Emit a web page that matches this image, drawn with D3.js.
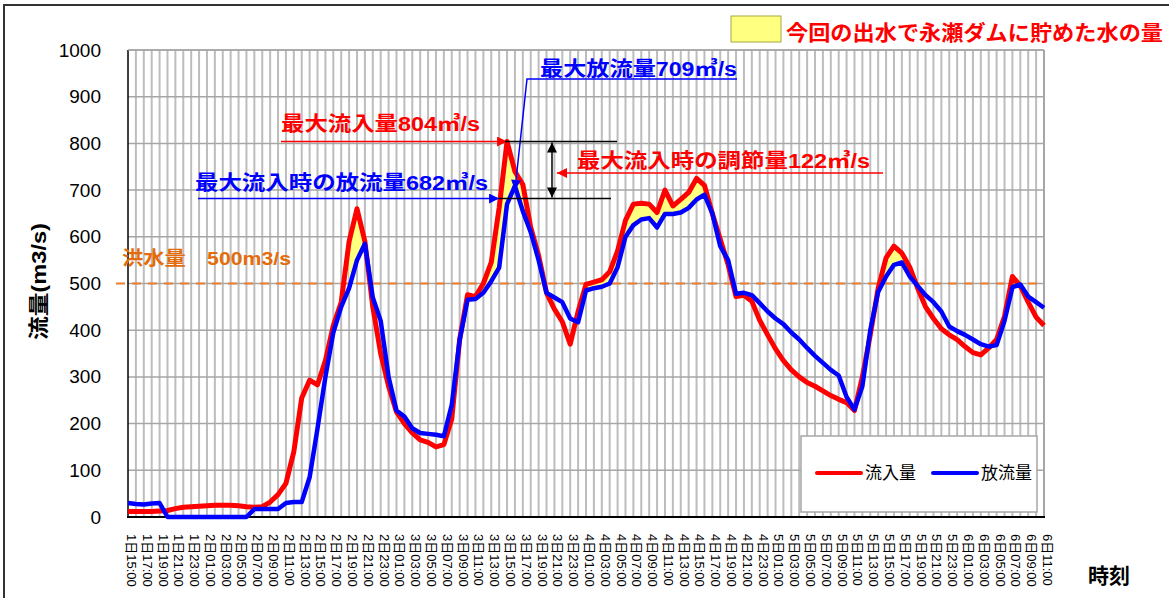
<!DOCTYPE html>
<html>
<head>
<meta charset="utf-8">
<script src="https://cdn.jsdelivr.net/npm/d3@7"></script>
<style>
  body { margin: 0; background: #fff; }
  svg { display: block; }
  text { font-family: "Liberation Sans", Arial, "Noto Sans CJK JP", sans-serif; }
  .jp { font-family: "Liberation Sans", "Noto Sans CJK JP", sans-serif; font-weight: bold; }
</style>
</head>
<body>
<svg id="drawing_region"></svg>
<script>
// hourly values, 1日15:00 -> 6日11:00
const inflow = [
  12, 12, 12, 12, 13, 14, 18, 21, 22, 23,
  24, 25, 25, 25, 24, 22, 21, 22, 32, 48,
  72, 140, 255, 293, 283, 335, 410, 460, 590, 660,
  590, 450, 350, 280, 225, 200, 180, 165, 160, 150,
  155, 210, 380, 476, 472, 500, 545, 662, 804, 740,
  712, 620, 560, 480, 445, 418, 370, 440, 498, 503,
  508, 525, 570, 635, 670, 672, 670, 652, 700, 666,
  680, 695, 725, 710, 650, 595, 540, 472, 475, 462,
  421, 390, 360, 335, 315, 300, 288, 280, 270, 260,
  252, 245, 228, 300, 390, 490, 555, 580, 565, 535,
  490, 450, 425, 403, 390, 380, 365, 352, 347, 362,
  380, 430, 515, 495, 460, 428, 410
];
const outflow = [
  30, 28, 27, 29, 30, 0, 0, 0, 0, 0,
  0, 0, 0, 0, 0, 0, 17, 17, 17, 17,
  30, 32, 32, 85, 190, 300, 395, 450, 490, 550,
  585, 470, 420, 300, 228, 215, 190, 180, 178, 176,
  173, 240, 379, 465, 467, 480, 505, 534, 670, 709,
  655, 610, 550, 480, 470, 460, 425, 417, 485, 490,
  493, 500, 535, 600, 625, 637, 640, 620, 649, 649,
  652, 662, 680, 690, 650, 580, 550, 478, 480, 475,
  458, 440, 425, 413, 395, 380, 362, 345, 330, 315,
  303, 257, 230, 280, 400, 482, 515, 540, 545, 515,
  495, 475, 460, 440, 408, 398, 390, 380, 370, 365,
  368, 420, 492, 498, 472, 460, 448
];
const tickLabels = [
  "1日15:00", "1日17:00", "1日19:00", "1日21:00", "1日23:00",
  "2日01:00", "2日03:00", "2日05:00", "2日07:00", "2日09:00", "2日11:00",
  "2日13:00", "2日15:00", "2日17:00", "2日19:00", "2日21:00", "2日23:00",
  "3日01:00", "3日03:00", "3日05:00", "3日07:00", "3日09:00", "3日11:00",
  "3日13:00", "3日15:00", "3日17:00", "3日19:00", "3日21:00", "3日23:00",
  "4日01:00", "4日03:00", "4日05:00", "4日07:00", "4日09:00", "4日11:00",
  "4日13:00", "4日15:00", "4日17:00", "4日19:00", "4日21:00", "4日23:00",
  "5日01:00", "5日03:00", "5日05:00", "5日07:00", "5日09:00", "5日11:00",
  "5日13:00", "5日15:00", "5日17:00", "5日19:00", "5日21:00", "5日23:00",
  "6日01:00", "6日03:00", "6日05:00", "6日07:00", "6日09:00", "6日11:00"
];
const yTicks = [0, 100, 200, 300, 400, 500, 600, 700, 800, 900, 1000];
const floodLevel = 500;
const maxIn = 804, maxOut = 709, outAtMaxIn = 682, cut = 122;

const W = 1169, H = 598;
const svg = d3.select('#drawing_region').attr('width', W).attr('height', H);

const data = inflow.map((v, i) => ({ h: i, inf: v, out: outflow[i] }));
const x = d3.scaleLinear().domain([0, inflow.length - 1]).range([128, 1044]);
const y = d3.scaleLinear().domain([0, 1000]).range([517, 50]);

// outer frame
svg.append('rect').attr('x', 4).attr('y', 5).attr('width', W + 10).attr('height', H + 10)
    .attr('fill', '#fff').attr('stroke', '#333').attr('stroke-width', 2);

// plot background + grid
svg.append('rect').attr('x', x(0)).attr('y', y(1000)).attr('width', x.range()[1] - x(0))
    .attr('height', y(0) - y(1000)).attr('fill', '#fff');

const grid = svg.append('g');
grid.selectAll('line.v').data(d3.range(1, inflow.length - 1)).enter().append('line')
    .attr('x1', d => x(d)).attr('x2', d => x(d))
    .attr('y1', y(1000)).attr('y2', y(0))
    .attr('stroke', '#bdbdbd').attr('stroke-width', 2);
grid.selectAll('line.h').data(yTicks.slice(1)).enter().append('line')
    .attr('x1', x(0)).attr('x2', x.range()[1])
    .attr('y1', d => y(d)).attr('y2', d => y(d))
    .attr('stroke', '#a6a6a6').attr('stroke-width', 1.5);
svg.append('line').attr('x1', x.range()[1]).attr('x2', x.range()[1]).attr('y1', y(1000)).attr('y2', y(0))
    .attr('stroke', '#a6a6a6').attr('stroke-width', 2);

// axes
const yaxis = d3.axisLeft(y).tickValues(yTicks).tickFormat(d3.format('d')).tickSize(0).tickPadding(27);
svg.append('g').attr('transform', `translate(${x(0)},0)`).call(yaxis)
    .call(g => g.select('.domain').remove())
    .selectAll('text').attr('font-size', 19).attr('fill', '#000')
    .attr('font-family', '"Liberation Sans", Arial, sans-serif');

const xaxis = d3.axisBottom(x).tickValues(d3.range(0, inflow.length, 2))
    .tickFormat((d, i) => tickLabels[i]).tickSize(0);
svg.append('g').attr('transform', `translate(0,${y(0)})`).call(xaxis)
    .call(g => g.select('.domain').remove())
    .selectAll('text')
    .attr('transform', 'translate(3,0) rotate(90)')
    .attr('x', 17).attr('y', 0).attr('dy', '0.35em')
    .style('text-anchor', 'start')
    .attr('font-size', 13).attr('fill', '#000');

svg.append('line').attr('x1', x(0)).attr('x2', x(0)).attr('y1', y(1000)).attr('y2', y(0))
    .attr('stroke', '#000').attr('stroke-width', 1.5);
svg.append('line').attr('x1', x(0) - 1).attr('x2', x.range()[1] + 1).attr('y1', y(0)).attr('y2', y(0))
    .attr('stroke', '#000').attr('stroke-width', 2);
svg.append('line').attr('x1', x(0)).attr('x2', x.range()[1]).attr('y1', y(1000)).attr('y2', y(1000))
    .attr('stroke', '#a6a6a6').attr('stroke-width', 1.5);

// axis titles
svg.append('text').attr('class', 'jp').attr('transform', `translate(46,${(y(0) + y(1000)) / 2 - 2}) rotate(-90)`)
    .attr('text-anchor', 'middle').attr('font-size', 21)
    .attr('textLength', 117).attr('lengthAdjust', 'spacingAndGlyphs')
    .text('流量(m3/s)');
svg.append('text').attr('class', 'jp').attr('x', 1088).attr('y', 583).attr('font-size', 21)
    .text('時刻');

// flood level
svg.append('line').attr('x1', 116).attr('x2', x.range()[1]).attr('y1', y(floodLevel)).attr('y2', y(floodLevel))
    .attr('stroke', '#ed7d31').attr('stroke-width', 2).attr('stroke-dasharray', '9,7');
svg.append('text').attr('class', 'jp').attr('x', 122).attr('y', 265).attr('font-size', 19)
    .attr('fill', '#e46c0a').attr('textLength', 169).attr('lengthAdjust', 'spacingAndGlyphs')
    .text('洪水量　500m3/s');

// stored water (inflow above outflow during flood)
const stored = d => d.inf > d.out && d.inf >= 480;
svg.append('path').datum(data)
    .attr('fill', '#ffff80').attr('stroke', 'none')
    .attr('d', d3.area().defined(stored).x(d => x(d.h)).y0(d => y(d.out)).y1(d => y(d.inf)));
svg.append('path').datum(data)
    .attr('fill', 'none').attr('stroke', '#8c8c8c').attr('stroke-width', 3)
    .attr('d', d3.line().defined(stored).x(d => x(d.h)).y(d => y(d.out)));

// series
const line = key => d3.line().x(d => x(d.h)).y(d => y(d[key]));
svg.append('path').datum(data).attr('fill', 'none').attr('stroke', '#ff0000')
    .attr('stroke-width', 5).attr('stroke-linejoin', 'round').attr('d', line('inf'));
svg.append('path').datum(data).attr('fill', 'none').attr('stroke', '#0000ff')
    .attr('stroke-width', 4.5).attr('stroke-linejoin', 'round').attr('d', line('out'));

// markers
const defs = svg.append('defs');
[['r', '#ff0000'], ['b', '#0000ff'], ['k', '#000']].forEach(([id, c]) => {
    defs.append('marker').attr('id', 'arr-' + id).attr('viewBox', '0 0 10 10')
        .attr('refX', 10).attr('refY', 5).attr('markerWidth', 11).attr('markerHeight', 10)
        .attr('markerUnits', 'userSpaceOnUse').attr('orient', 'auto-start-reverse')
        .append('path').attr('d', 'M0,0L10,5L0,10Z').attr('fill', c);
});

const iMaxIn = inflow.indexOf(maxIn);
const iMaxOut = outflow.indexOf(maxOut);

// max inflow
svg.append('line').attr('x1', 281).attr('x2', x(iMaxIn)).attr('y1', y(maxIn)).attr('y2', y(maxIn))
    .attr('stroke', '#ff0000').attr('stroke-width', 1.5).attr('marker-end', 'url(#arr-r)');
svg.append('text').attr('class', 'jp').attr('x', 281).attr('y', 131).attr('font-size', 20)
    .attr('fill', '#ff0000').attr('textLength', 199).attr('lengthAdjust', 'spacingAndGlyphs')
    .text(`最大流入量${maxIn}㎥/s`);

// outflow at max inflow
svg.append('line').attr('x1', 198).attr('x2', x(iMaxIn) - 8).attr('y1', y(outAtMaxIn)).attr('y2', y(outAtMaxIn))
    .attr('stroke', '#0000ff').attr('stroke-width', 1.5).attr('marker-end', 'url(#arr-b)');
svg.append('text').attr('class', 'jp').attr('x', 195).attr('y', 190).attr('font-size', 20)
    .attr('fill', '#0000ff').attr('textLength', 293).attr('lengthAdjust', 'spacingAndGlyphs')
    .text(`最大流入時の放流量${outAtMaxIn}㎥/s`);

// max outflow leader
svg.append('polyline')
    .attr('points', `737,79 527,79 ${x(iMaxOut)},${y(maxOut) + 4}`)
    .attr('fill', 'none').attr('stroke', '#0000ff').attr('stroke-width', 1.5).attr('marker-end', 'url(#arr-b)');
svg.append('text').attr('class', 'jp').attr('x', 540).attr('y', 76).attr('font-size', 20)
    .attr('fill', '#0000ff').attr('textLength', 197).attr('lengthAdjust', 'spacingAndGlyphs')
    .text(`最大放流量${maxOut}㎥/s`);

// regulated amount
svg.append('line').attr('x1', x(iMaxIn) - 2).attr('x2', 617).attr('y1', y(maxIn)).attr('y2', y(maxIn))
    .attr('stroke', '#000').attr('stroke-width', 1.5);
svg.append('line').attr('x1', x(iMaxIn) - 8).attr('x2', 611).attr('y1', y(outAtMaxIn)).attr('y2', y(outAtMaxIn))
    .attr('stroke', '#000').attr('stroke-width', 1.5);
svg.append('line').attr('x1', 552).attr('x2', 552).attr('y1', y(maxIn) + 1).attr('y2', y(outAtMaxIn) - 1)
    .attr('stroke', '#000').attr('stroke-width', 1.5)
    .attr('marker-start', 'url(#arr-k)').attr('marker-end', 'url(#arr-k)');
svg.append('line').attr('x1', 883).attr('x2', 557).attr('y1', 173).attr('y2', 173)
    .attr('stroke', '#ff0000').attr('stroke-width', 1.5).attr('marker-end', 'url(#arr-r)');
svg.append('text').attr('class', 'jp').attr('x', 577).attr('y', 168).attr('font-size', 20)
    .attr('fill', '#ff0000').attr('textLength', 293).attr('lengthAdjust', 'spacingAndGlyphs')
    .text(`最大流入時の調節量${cut}㎥/s`);

// top legend for stored water
svg.append('rect').attr('x', 731).attr('y', 16).attr('width', 50).attr('height', 26)
    .attr('fill', '#ffff80').attr('stroke', '#a8a840').attr('stroke-width', 1);
svg.append('text').attr('class', 'jp').attr('x', 786).attr('y', 40).attr('font-size', 21)
    .attr('fill', '#ff0000').attr('textLength', 377).attr('lengthAdjust', 'spacingAndGlyphs')
    .text('今回の出水で永瀬ダムに貯めた水の量');

// series legend
const lg = svg.append('g');
lg.append('rect').attr('x', 801).attr('y', 436).attr('width', 236).attr('height', 76)
    .attr('fill', '#fff').attr('stroke', '#a6a6a6').attr('stroke-width', 1.5);
[['流入量', '#ff0000', 817], ['放流量', '#0000ff', 933]].forEach(([t, c, lx]) => {
    lg.append('line').attr('x1', lx).attr('x2', lx + 44).attr('y1', 473).attr('y2', 473)
        .attr('stroke', c).attr('stroke-width', 4).attr('stroke-linecap', 'round');
    lg.append('text').attr('x', lx + 48).attr('y', 479).attr('font-size', 17)
        .attr('font-family', '"Noto Sans CJK JP", sans-serif').attr('fill', '#000').text(t);
});
</script>
</body>
</html>
